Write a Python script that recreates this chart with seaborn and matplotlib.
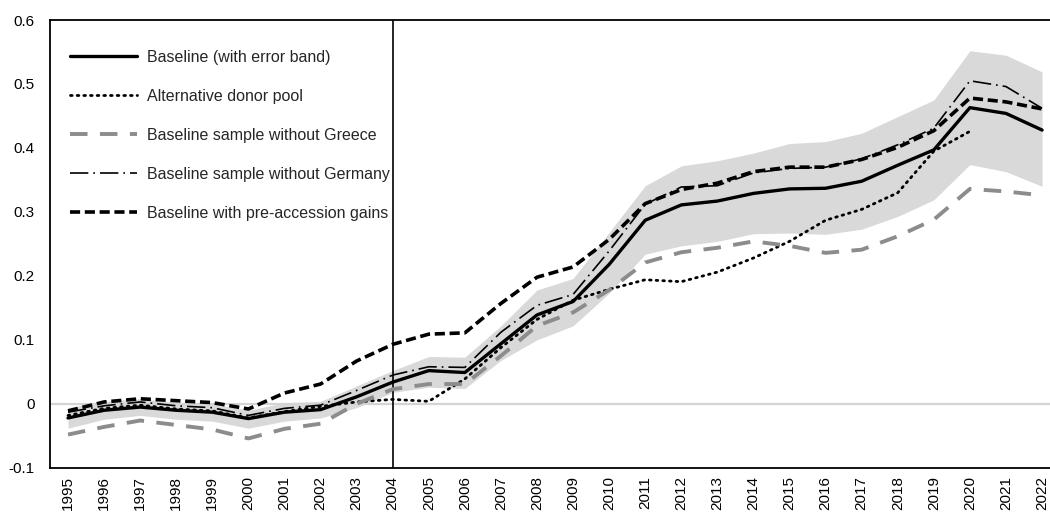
import matplotlib
matplotlib.use("Agg")
import matplotlib.pyplot as plt
import numpy as np
import pandas as pd
import seaborn as sns

years = list(range(1995, 2023))

baseline = [-0.022, -0.010, -0.005, -0.010, -0.013, -0.023, -0.013, -0.009, 0.011, 0.034,
            0.052, 0.049, 0.094, 0.139, 0.160, 0.218, 0.287, 0.311, 0.317, 0.329,
            0.336, 0.337, 0.348, 0.373, 0.397, 0.463, 0.454, 0.428]
band_low = [-0.038, -0.024, -0.018, -0.024, -0.027, -0.038, -0.027, -0.022, -0.006, 0.018,
            0.026, 0.024, 0.068, 0.100, 0.122, 0.173, 0.234, 0.247, 0.254, 0.266,
            0.267, 0.265, 0.273, 0.293, 0.319, 0.374, 0.363, 0.340]
band_high = [-0.006, 0.004, 0.008, 0.002, 0.000, -0.010, 0.002, 0.004, 0.028, 0.052,
             0.074, 0.073, 0.122, 0.178, 0.196, 0.268, 0.341, 0.372, 0.380, 0.392,
             0.407, 0.410, 0.423, 0.449, 0.475, 0.552, 0.545, 0.519]
alt_donor = [-0.018, -0.007, -0.002, -0.008, -0.011, -0.022, -0.012, -0.004, 0.003, 0.007,
             0.004, 0.039, 0.088, 0.132, 0.162, 0.179, 0.194, 0.191, 0.206, 0.228,
             0.254, 0.287, 0.304, 0.330, 0.395, 0.426, None, None]
no_greece = [-0.048, -0.036, -0.026, -0.033, -0.040, -0.054, -0.039, -0.031, 0.000, 0.023,
             0.031, 0.031, 0.075, 0.122, 0.143, 0.178, 0.221, 0.237, 0.244, 0.254,
             0.247, 0.236, 0.241, 0.262, 0.288, 0.336, 0.332, 0.326]
no_germany = [-0.013, -0.003, 0.003, -0.003, -0.006, -0.018, -0.007, -0.002, 0.021, 0.045,
              0.058, 0.057, 0.112, 0.154, 0.171, 0.239, 0.312, 0.339, 0.341, 0.361,
              0.368, 0.370, 0.383, 0.405, 0.431, 0.505, 0.496, 0.462]
pre_accession = [-0.011, 0.003, 0.008, 0.005, 0.002, -0.008, 0.017, 0.031, 0.067, 0.093,
                 0.109, 0.111, 0.157, 0.198, 0.214, 0.257, 0.313, 0.335, 0.345, 0.363,
                 0.370, 0.370, 0.382, 0.401, 0.427, 0.478, 0.472, 0.461]

labels = ["Baseline (with error band)", "Alternative donor pool",
          "Baseline sample without Greece", "Baseline sample without Germany",
          "Baseline with pre-accession gains"]
accession_year = 2004

sns.set_theme(style="white")
plt.rcParams["font.family"] = ["Liberation Sans", "DejaVu Sans"]

fig = plt.figure(figsize=(10.5, 5.13), dpi=100)
ax = fig.add_axes([0.0476, 0.088, 0.9524, 0.873])

ax.fill_between(years, band_low, band_high, color="#d9d9d9", lw=0, zorder=1)
ax.axhline(0, color="#d4d4d4", lw=1.6, zorder=1.5)
ax.axvline(accession_year, color="black", lw=1.2, zorder=1.6)

series = [
    (baseline, dict(color="black", lw=2.4, linestyle="-")),
    (alt_donor, dict(color="black", lw=2.0, linestyle=(0, (0.6, 1.8)),
                     dash_capstyle="round")),
    (no_greece, dict(color="#8c8c8c", lw=2.8, linestyle=(0, (4.5, 3.2)))),
    (no_germany, dict(color="black", lw=1.2, linestyle=(0, (11, 3, 1, 3)))),
    (pre_accession, dict(color="black", lw=2.6, linestyle=(0, (2.8, 1.3)))),
]
for (vals, style), lab in zip(series, labels):
    df = pd.DataFrame({"year": years, "value": pd.array(vals, dtype="Float64")}).dropna()
    df["value"] = df["value"].astype(float)
    sns.lineplot(data=df, x="year", y="value", ax=ax, label=lab, zorder=3, **style)

ax.set_xlim(1994.5, 2022.22)
ax.set_ylim(-0.1, 0.6)
ax.set_xticks(years)
ax.set_xticklabels([str(y) for y in years], rotation=90, fontsize=11)
ax.set_yticks(np.round(np.arange(-0.1, 0.61, 0.1), 1))
ax.set_yticklabels(["-0.1", "0", "0.1", "0.2", "0.3", "0.4", "0.5", "0.6"], fontsize=11)
ax.tick_params(axis="x", length=0, pad=6, colors="black")
ax.tick_params(axis="y", length=0, pad=11, colors="black")
ax.set_xlabel("")
ax.set_ylabel("")
for side in ["left", "bottom", "top"]:
    ax.spines[side].set_color("black")
    ax.spines[side].set_linewidth(1.3)
ax.spines["right"].set_visible(False)

leg = ax.legend(loc="upper left", bbox_to_anchor=(0.006, 0.965), frameon=False,
                fontsize=11.5, handlelength=4.2, handletextpad=0.6,
                labelspacing=1.5)

fig.savefig("out.png", dpi=100)
